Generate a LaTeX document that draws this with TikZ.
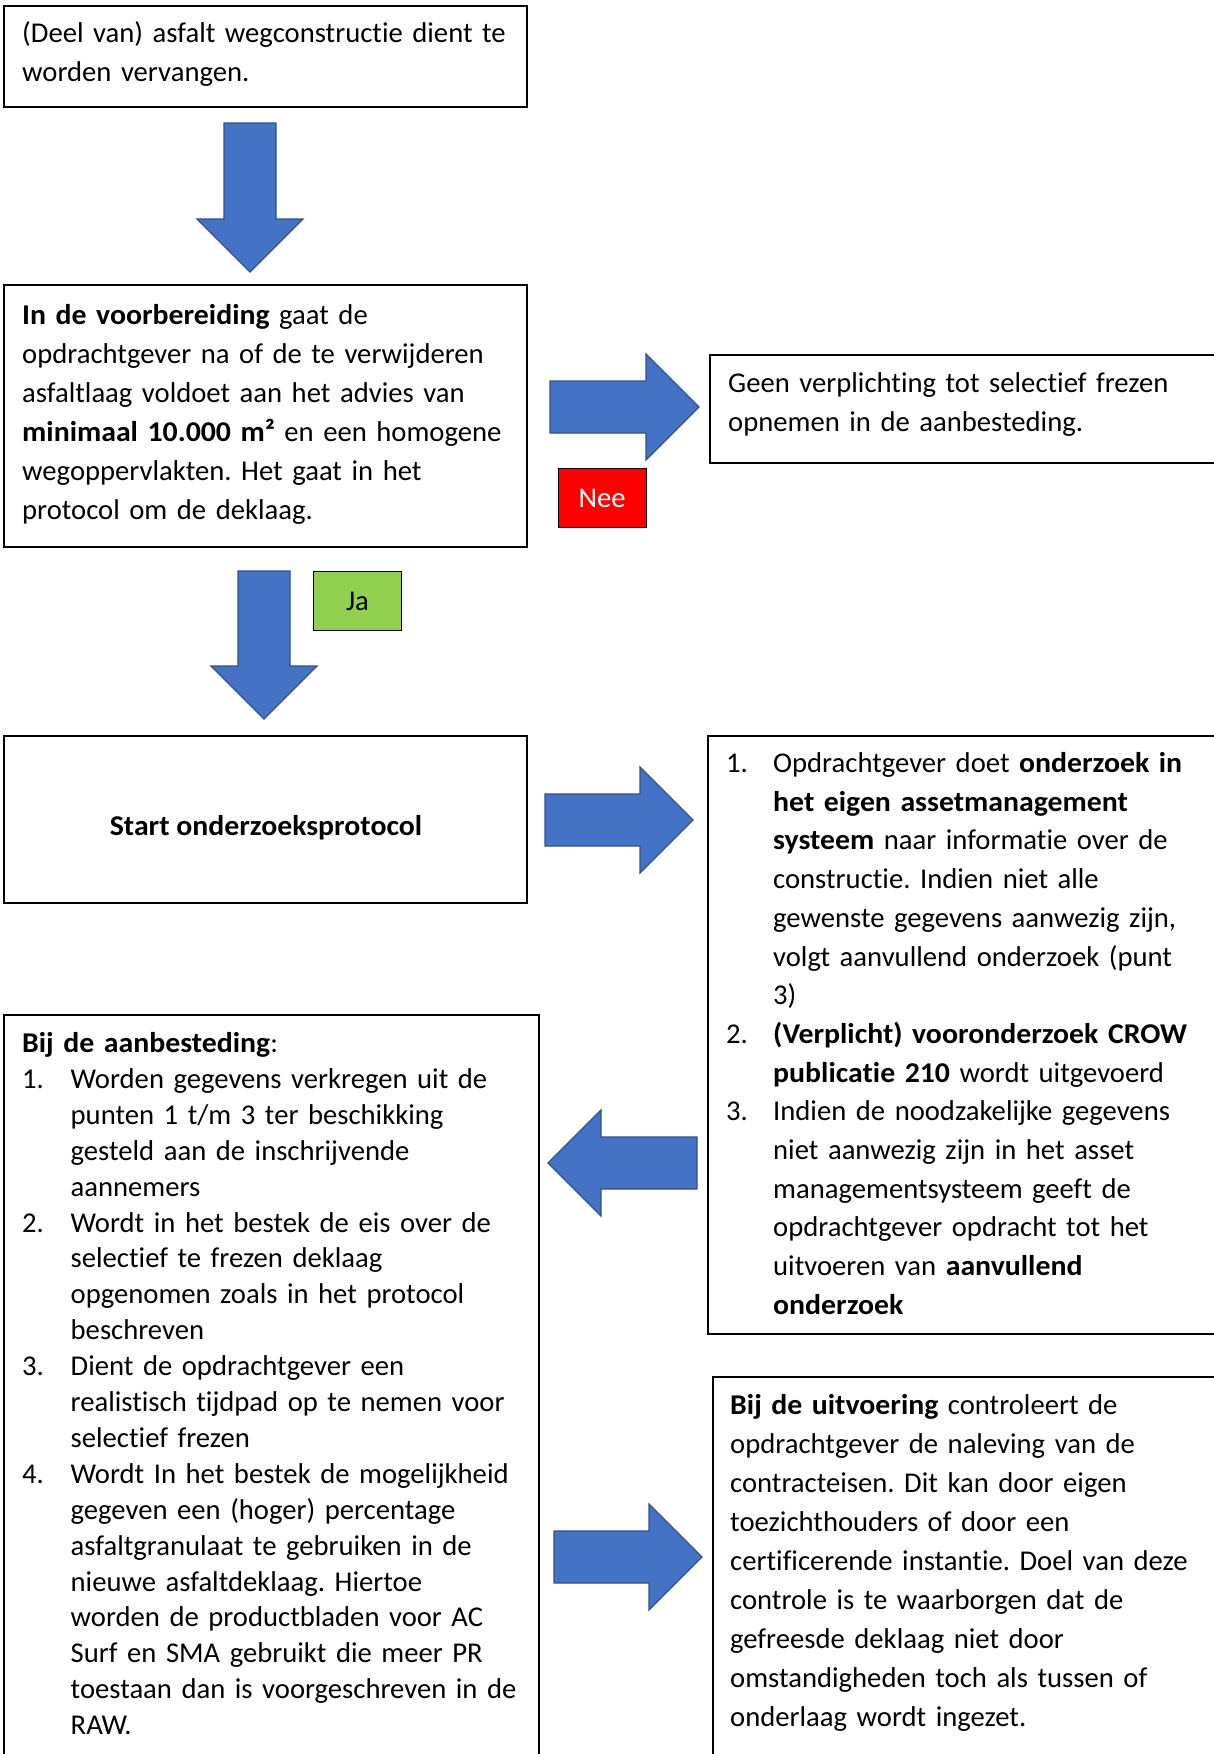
\documentclass[tikz,border=0pt]{standalone}
\usepackage{fontspec}
\setmainfont{Carlito}[Ligatures=NoCommon,BoldFeatures={FakeStretch=1.04}]
\usetikzlibrary{calc}
\definecolor{pijlblauw}{HTML}{4472C4}
\definecolor{pijlrand}{HTML}{2F528F}
\definecolor{neerood}{HTML}{FF0000}
\definecolor{jagroen}{HTML}{92D050}
\newcommand\blokpijl[1]{% total length, drawn along +x
  (0,-26) -- (#1-53,-26) -- (#1-53,-53) -- (#1,0)
  -- (#1-53,53) -- (#1-53,26) -- (0,26) -- cycle
}
\newcommand\punt[2]{% number, indent
  \hangindent=#2pt\hangafter=1\noindent\makebox[#2pt][l]{#1}}
\frenchspacing
\tikzset{
    kader/.style={draw=black,line width=1.3pt},
    pijl/.style={fill=pijlblauw,draw=pijlrand,line width=1.2pt},
    % text blocks are placed on the baseline of their first line
    tekst/.style={anchor=base west,inner sep=0pt,text width=#1,align=left,
                  font=\fontsize{28.65}{39}\selectfont},
    label/.style={draw=black,line width=1pt,minimum width=88pt,minimum height=59pt,
                  inner sep=0pt,font=\fontsize{28.65}{39}\selectfont}
}
\begin{document}
\begin{tikzpicture}[x=1pt,y=-1pt]
  \useasboundingbox[fill=white] (0,0) rectangle (1214,1754);

  \draw[kader] (4,6) rectangle (527,107);
  \draw[kader] (4,285) rectangle (527,547);
  \draw[kader] (710,355) rectangle (1230,463);
  \draw[kader] (4,736) rectangle (527,903);
  \draw[kader] (708,736) rectangle (1230,1334);
  \draw[kader] (4,1015) rectangle (539,1770);
  \draw[kader] (713,1377) rectangle (1230,1770);

  \draw[pijl,shift={(250,123)},rotate=-90] \blokpijl{149};
  \draw[pijl,shift={(550,407)}] \blokpijl{149};
  \draw[pijl,shift={(264,571)},rotate=-90] \blokpijl{148};
  \draw[pijl,shift={(545,820)}] \blokpijl{148};
  \draw[pijl,shift={(697,1163)},rotate=180] \blokpijl{149};
  \draw[pijl,shift={(554,1557)}] \blokpijl{148};

  \node[label,fill=neerood,text=white] (nee) at (602,498) {Nee};
  \node[label,fill=jagroen] (ja) at (357.5,601) {Ja};

  \node[tekst=500pt] (vervangen) at (22,42.5)
    {(Deel van) asfalt wegconstructie dient te\\worden vervangen.};

  \node[tekst=500pt] (voorbereiding) at (22,324)
    {\textbf{In de voorbereiding} gaat de\\
     opdrachtgever na of de te verwijderen\\
     asfaltlaag voldoet aan het advies van\\
     \textbf{minimaal 10.000 m²} en een homogene\\
     wegoppervlakten. Het gaat in het\\
     protocol om de deklaag.};

  \node[tekst=480pt] (geen) at (728,392.5)
    {Geen verplichting tot selectief frezen\\opnemen in de aanbesteding.};

  \node[anchor=base,inner sep=0pt,font=\fontsize{28.65}{39}\selectfont\bfseries]
    (start) at (266,835.5) {Start onderzoeksprotocol};

  \node[tekst=490pt,font=\fontsize{28.65}{38.7}\selectfont] (onderzoek) at (726,772.5)
    {\punt{1.}{47}Opdrachtgever doet \textbf{onderzoek in}\newline
     \textbf{het eigen assetmanagement}\newline
     \textbf{systeem} naar informatie over de\newline
     constructie. Indien niet alle\newline
     gewenste gegevens aanwezig zijn,\newline
     volgt aanvullend onderzoek (punt\newline
     3)\par
     \punt{2.}{47}\textbf{(Verplicht) vooronderzoek CROW}\newline
     \textbf{publicatie 210} wordt uitgevoerd\par
     \punt{3.}{47}Indien de noodzakelijke gegevens\newline
     niet aanwezig zijn in het asset\newline
     managementsysteem geeft de\newline
     opdrachtgever opdracht tot het\newline
     uitvoeren van \textbf{aanvullend}\newline
     \textbf{onderzoek}\par};

  \node[tekst=510pt,font=\fontsize{28.65}{35.9}\selectfont] (aanbesteding) at (22,1052.5)
    {\textbf{Bij de aanbesteding}:\par
     \punt{1.}{48.5}Worden gegevens verkregen uit de\newline
     punten 1 t/m 3 ter beschikking\newline
     gesteld aan de inschrijvende\newline
     aannemers\par
     \punt{2.}{48.5}Wordt in het bestek de eis over de\newline
     selectief te frezen deklaag\newline
     opgenomen zoals in het protocol\newline
     beschreven\par
     \punt{3.}{48.5}Dient de opdrachtgever een\newline
     realistisch tijdpad op te nemen voor\newline
     selectief frezen\par
     \punt{4.}{48.5}Wordt In het bestek de mogelijkheid\newline
     gegeven een (hoger) percentage\newline
     asfaltgranulaat te gebruiken in de\newline
     nieuwe asfaltdeklaag. Hiertoe\newline
     worden de productbladen voor AC\newline
     Surf en SMA gebruikt die meer PR\newline
     toestaan dan is voorgeschreven in de\newline
     RAW.\par};

  \node[tekst=480pt] (uitvoering) at (730,1414.5)
    {\textbf{Bij de uitvoering} controleert de\\
     opdrachtgever de naleving van de\\
     contracteisen. Dit kan door eigen\\
     toezichthouders of door een\\
     certificerende instantie. Doel van deze\\
     controle is te waarborgen dat de\\
     gefreesde deklaag niet door\\
     omstandigheden toch als tussen of\\
     onderlaag wordt ingezet.};

\end{tikzpicture}
\end{document}
